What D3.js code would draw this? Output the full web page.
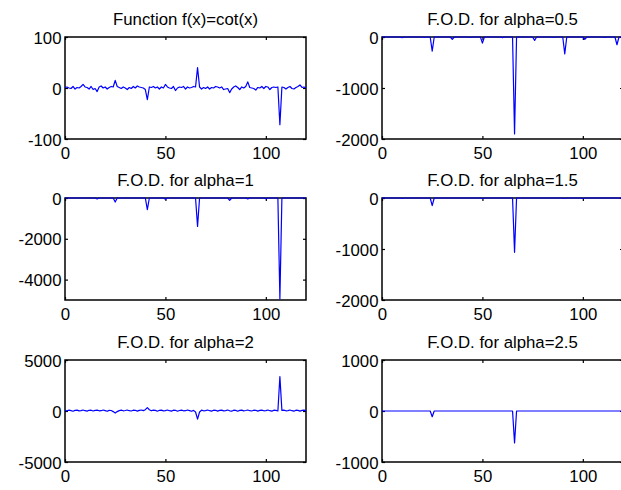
<!DOCTYPE html>
<html><head><meta charset="utf-8">
<script src="https://cdn.jsdelivr.net/npm/d3@7"></script>
<style>
body{margin:0;background:#fff;}
svg{display:block;}
text{font-family:Arial,"Liberation Sans",sans-serif;}
</style>
</head><body><div id="chart"></div>
<script>
// ---------------- data ----------------
const titles = ["Function f(x)=cot(x)", "F.O.D. for alpha=0.5", "F.O.D. for alpha=1",
                "F.O.D. for alpha=1.5", "F.O.D. for alpha=2", "F.O.D. for alpha=2.5"];
const xDomain = [0, 120];
const xTickValues = [0, 50, 100];
const yDomains = [[-100, 100], [-2000, 0], [-5000, 0], [-2000, 0], [-5000, 5000], [-1000, 1000]];
const yTickValues = [[-100, 0, 100], [-2000, -1000, 0], [-4000, -2000, 0], [-2000, -1000, 0], [-5000, 0, 5000], [-1000, 0, 1000]];

// f(x)=cot(x), one value per sample index 0..120
const cotY = [
  1, 2, 0, -1, 3, -2, 1, 0, 3, 7,
  2, 1, -2, 3, -3, -1, -7, 2, 4, 0,
  2, -2, 1, 3, 2, 15, 3, 1, -1, 2,
  0, -3, 1, -1, 3, 0, 4, 2, 1, 0,
  -3, -23, 2, 1, 3, 0, 2, -2, 2, 0,
  7, 2, 0, -1, 3, -5, 0, 2, 1, 3,
  -2, 2, 0, 1, 3, 2, 40, 2, -2, 1,
  -1, 2, -2, 1, 0, 3, 2, 0, 2, -3,
  -2, -1, -9, -2, 2, 4, 1, -3, 2, 0,
  3, 12, 1, 0, -1, -4, 1, 0, 3, -1,
  3, 2, -3, 1, 2, 1, 2, -72, 2, 1,
  -2, 1, 3, -1, -2, 1, 3, 6, 1, 2,
  0];

// alpha = 0.5
const a05X = [0, 9, 10, 11, 20, 21, 22, 24, 25, 26, 34, 35, 36, 43, 44, 45, 49, 50, 51, 59, 60, 61,
              65, 66, 67, 75, 76, 77, 84, 85, 86, 90, 91, 92, 100, 101, 102, 110, 111, 112, 116, 117, 118, 120];
const a05Y = [0, 0, -15, 0, 0, -10, 0, 0, -277, 0, 0, -46, 0, 0, -10, 0, 0, -119, 0, 0, -12, 0,
              0, -1900, 0, 0, -66, 0, 0, -10, 0, 0, -330, 0, 0, -46, 0, 0, -10, 0, 0, -152, 0, 0];

// alpha = 1
const a1X = [0, 15, 16, 17, 24, 25, 26, 40, 41, 42, 49, 50, 51, 65, 66, 67, 81, 82, 83, 90, 91, 92,
             99, 100, 101, 106, 107, 108, 120];
const a1Y = [0, 0, -50, 0, 0, -200, 0, 0, -570, 0, 0, -60, 0, 0, -1390, 0, 0, -115, 0, 0, -50, 0,
             0, -30, 0, 0, -4950, 0, 0];

// alpha = 1.5
const a15X = [0, 9, 10, 11, 24, 25, 26, 49, 50, 51, 65, 66, 67, 90, 91, 92, 99, 100, 101, 120];
const a15Y = [0, 0, -10, 0, 0, -150, 0, 0, -10, 0, 0, -1065, 0, 0, -10, 0, 0, -10, 0, 0];

// alpha = 2, one value per sample index 0..120
const a2Y = [
  50, 20, 80, 40, -20, 60, 90, 10, 40, 100,
  30, -10, 70, 80, 0, 60, 90, 20, 30, 100,
  40, -30, 60, 50, -60, -200, -60, 40, 80, 20,
  50, 100, 30, 0, 80, 70, -10, 60, 100, 40,
  130, 330, 120, 20, 90, 60, -20, 70, 90, 10,
  40, 100, 30, -10, 80, 70, -20, 50, 90, 20,
  30, 100, 40, -30, 60, -100, -800, -100, 80, 20,
  40, 100, 30, -10, 80, 70, -10, 60, 90, 10,
  40, 100, 20, -20, 80, 60, -20, 60, 90, 10,
  50, 100, 30, 0, 80, 70, -10, 60, 90, 20,
  40, 100, 30, -10, 80, 60, 0, 3370, 60, 90,
  20, 40, 100, 30, -20, 80, 60, -10, 60, 90,
  10];

// alpha = 2.5
const a25X = [0, 24, 25, 26, 65, 66, 67, 120];
const a25Y = [0, 0, -112, 0, 0, -627, 0, 0];

// ---------------- drawing ----------------
const series = [
  cotY.map((v, i) => [i, v]),
  a05X.map((x, i) => [x, a05Y[i]]),
  a1X.map((x, i) => [x, a1Y[i]]),
  a15X.map((x, i) => [x, a15Y[i]]),
  a2Y.map((v, i) => [i, v]),
  a25X.map((x, i) => [x, a25Y[i]])
];

const W = 621, H = 490;
const colX = [65, 382], rowY = [37, 198, 360];
const pw = 241, ph = 102;
const fs = 16.8;
const plainFmt = d => String(d);

const svg = d3.select("#chart").append("svg").attr("width", W).attr("height", H)
  .style("background", "#fff");

series.forEach((data, k) => {
  const col = k % 2, row = Math.floor(k / 2);
  const g = svg.append("g").attr("transform", `translate(${colX[col]},${rowY[row]})`);
  const x = d3.scaleLinear().domain(xDomain).range([0, pw]);
  const y = d3.scaleLinear().domain(yDomains[k]).range([ph, 0]);

  const styleAxis = sel => {
    sel.select(".domain").remove();
    sel.selectAll(".tick line").attr("stroke", "#000").attr("stroke-width", 1.2);
    sel.selectAll("text").attr("fill", "#000").style("font-size", fs + "px")
      .style("font-family", "Arial, 'Liberation Sans', sans-serif");
  };

  g.append("g").attr("transform", `translate(0,${ph})`)
    .call(d3.axisBottom(x).tickValues(xTickValues).tickFormat(plainFmt)
      .tickSizeInner(-3).tickSizeOuter(0).tickPadding(8.5))
    .call(styleAxis);
  g.append("g")
    .call(d3.axisTop(x).tickValues(xTickValues).tickSizeInner(-3).tickSizeOuter(0).tickFormat(""))
    .call(styleAxis);
  g.append("g")
    .call(d3.axisLeft(y).tickValues(yTickValues[k]).tickFormat(plainFmt)
      .tickSizeInner(-3).tickSizeOuter(0).tickPadding(3.5))
    .call(styleAxis)
    .selectAll("text").attr("dy", "0.36em");
  g.append("g").attr("transform", `translate(${pw},0)`)
    .call(d3.axisRight(y).tickValues(yTickValues[k]).tickSizeInner(-3).tickSizeOuter(0).tickFormat(""))
    .call(styleAxis);

  g.append("rect").attr("x", 0).attr("y", 0).attr("width", pw).attr("height", ph)
    .attr("fill", "none").attr("stroke", "#000").attr("stroke-width", 1.5);

  const cid = "clip" + k;
  g.append("clipPath").attr("id", cid).append("rect")
    .attr("x", -1).attr("y", -1).attr("width", pw + 2).attr("height", ph + 2);

  const line = d3.line().x(d => x(d[0])).y(d => y(d[1]));
  g.append("path").datum(data).attr("clip-path", `url(#${cid})`)
    .attr("d", line).attr("fill", "none").attr("stroke", "#0000ff")
    .attr("stroke-width", 1.2).attr("stroke-linejoin", "round");

  g.append("text").attr("x", pw / 2).attr("y", -12).attr("text-anchor", "middle")
    .style("font-size", fs + "px").attr("fill", "#000").text(titles[k]);
});
</script>
</body></html>
